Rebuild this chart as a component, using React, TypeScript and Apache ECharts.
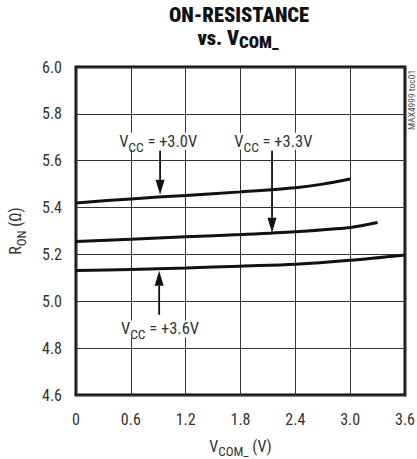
import React, { useEffect, useRef } from "react";
import * as echarts from "echarts";

// ---- data ----
const xTicks = [0, 0.6, 1.2, 1.8, 2.4, 3.0, 3.6];
const yTicks = [4.6, 4.8, 5.0, 5.2, 5.4, 5.6, 5.8, 6.0];

const vcom30 = [0, 0.6, 1.2, 1.8, 2.4, 2.7, 3.0];
const ron30 = [5.42, 5.437, 5.452, 5.467, 5.485, 5.5, 5.522];

const vcom33 = [0, 0.6, 1.2, 1.8, 2.4, 3.0, 3.3];
const ron33 = [5.255, 5.265, 5.275, 5.285, 5.297, 5.315, 5.336];

const vcom36 = [0, 0.6, 1.2, 1.8, 2.4, 3.0, 3.6];
const ron36 = [5.131, 5.136, 5.142, 5.15, 5.158, 5.175, 5.198];

// annotation labels (data coordinates)
const annLabels = ["+3.0V", "+3.3V", "+3.6V"];
const annTextX = [0.45, 1.71, 0.47];
const annTextY = [5.683, 5.683, 4.882];
const annArrowX = [0.92, 2.145, 0.91];
const annTailY = [5.643, 5.643, 4.942];
const annTipY = [5.455, 5.292, 5.13];

const FONT = "'Roboto Condensed', 'Liberation Sans Narrow', 'Roboto', sans-serif";

export default function App() {
  const ref = useRef<HTMLDivElement>(null);

  useEffect(() => {
    if (!ref.current) return;
    const chart = echarts.init(ref.current, undefined, { renderer: "svg" });

    const mk = (xs: number[], ys: number[], name: string) => ({
      name,
      type: "line",
      smooth: 0.3,
      symbol: "none",
      lineStyle: { color: "#111", width: 3 },
      data: xs.map((x, i) => [x, ys[i]]),
      z: 5,
    });

    const axisRich = {
      m: { fontFamily: FONT, fontSize: 16, color: "#333", lineHeight: 17, verticalAlign: "top" },
      s: { fontFamily: FONT, fontSize: 13, color: "#333", lineHeight: 13, verticalAlign: "top", padding: [7, 0, 0, 0] },
    };

    const option: any = {
      animation: false,
      grid: {
        left: 76,
        right: 12,
        top: 67,
        bottom: 64,
        containLabel: false,
        outerBoundsMode: "none",
        show: true,
        borderColor: "#111",
        borderWidth: 3,
        backgroundColor: "transparent",
      },
      xAxis: {
        type: "value",
        min: 0,
        max: 3.6,
        interval: 0.6,
        axisLine: { show: false },
        axisTick: { show: false },
        splitLine: { show: true, lineStyle: { color: "#333", width: 1 } },
        axisLabel: {
          color: "#333",
          fontFamily: FONT,
          fontSize: 16,
          margin: 16,
          formatter: (v: number) => (v === 0 ? "0" : v.toFixed(1)),
        },
        name: "{m|V}{s|COM_}{m| (V)}",
        nameLocation: "middle",
        nameGap: 43,
        nameTextStyle: { rich: axisRich },
      },
      yAxis: {
        type: "value",
        min: 4.6,
        max: 6.0,
        interval: 0.2,
        axisLine: { show: false },
        axisTick: { show: false },
        splitLine: { show: true, lineStyle: { color: "#333", width: 1 } },
        axisLabel: {
          color: "#333",
          fontFamily: FONT,
          fontSize: 16,
          margin: 14,
          formatter: (v: number) => v.toFixed(1),
        },
      },
      series: [mk(vcom30, ron30, "3.0"), mk(vcom33, ron33, "3.3"), mk(vcom36, ron36, "3.6")],
    };

    chart.setOption(option);

    const rich = {
      m: { fontFamily: FONT, fontSize: 16.5, fill: "#333", lineHeight: 17, verticalAlign: "top" },
      s: { fontFamily: FONT, fontSize: 13.5, fill: "#333", lineHeight: 13, verticalAlign: "top", padding: [7, 0, 0, 0] },
    };

    const graphics: any[] = [
      {
        type: "text",
        x: 239,
        y: 5,
        style: {
          text: "ON-RESISTANCE",
          fontFamily: FONT,
          fontWeight: 900,
          fontSize: 20.5,
          lineHeight: 20,
          fill: "#111",
          align: "center",
          verticalAlign: "top",
        },
      },
      {
        type: "text",
        x: 238,
        y: 27,
        style: {
          text: "{m|vs. V}{s|COM_}",
          align: "center",
          verticalAlign: "top",
          rich: {
            m: { fontFamily: FONT, fontWeight: 900, fontSize: 20.5, fill: "#111", lineHeight: 20, verticalAlign: "top" },
            s: { fontFamily: FONT, fontWeight: 900, fontSize: 17, fill: "#111", lineHeight: 16, verticalAlign: "top", padding: [6, 0, 0, 0] },
          },
        },
      },
      {
        type: "text",
        x: 16,
        y: 231,
        rotation: Math.PI / 2,
        style: {
          text: "{m|R}{s|ON}{m| (Ω)}",
          align: "center",
          verticalAlign: "middle",
          rich: {
            m: { fontFamily: FONT, fontSize: 16, fill: "#333", lineHeight: 17, verticalAlign: "top" },
            s: { fontFamily: FONT, fontSize: 13, fill: "#333", lineHeight: 13, verticalAlign: "top", padding: [7, 0, 0, 0] },
          },
        },
      },
      {
        type: "text",
        x: 411,
        y: 100,
        rotation: Math.PI / 2,
        style: {
          text: "MAX4999 toc01",
          fontFamily: FONT,
          fontSize: 9.5,
          fill: "#555",
          align: "center",
          verticalAlign: "middle",
        },
      },
    ];

    for (let i = 0; i < annLabels.length; i++) {
      const tp = chart.convertToPixel({ gridIndex: 0 }, [annTextX[i], annTextY[i]]) as number[];
      const tail = chart.convertToPixel({ gridIndex: 0 }, [annArrowX[i], annTailY[i]]) as number[];
      const tip = chart.convertToPixel({ gridIndex: 0 }, [annArrowX[i], annTipY[i]]) as number[];
      const dir = tip[1] > tail[1] ? 1 : -1;
      const headLen = 15;
      const headHalf = 4.5;
      graphics.push({
        type: "text",
        x: tp[0],
        y: tp[1],
        z: 10,
        style: {
          text: "{m|V}{s|CC}{m| = " + annLabels[i] + "}",
          align: "left",
          verticalAlign: "middle",
          backgroundColor: "#fff",
          padding: [0, 2, 0, 2],
          rich,
        },
      });
      graphics.push({
        type: "line",
        z: 10,
        shape: { x1: tail[0], y1: tail[1], x2: tip[0], y2: tip[1] - dir * headLen },
        style: { stroke: "#111", lineWidth: 1.8 },
      });
      graphics.push({
        type: "polygon",
        z: 10,
        shape: {
          points: [
            [tip[0], tip[1]],
            [tip[0] - headHalf, tip[1] - dir * headLen],
            [tip[0] + headHalf, tip[1] - dir * headLen],
          ],
        },
        style: { fill: "#111" },
      });
    }

    chart.setOption({ graphic: graphics });

    return () => chart.dispose();
  }, []);

  return (
    <div
      ref={ref}
      style={{ position: "fixed", left: 0, top: 0, width: 417, height: 459, background: "#fff" }}
    />
  );
}
